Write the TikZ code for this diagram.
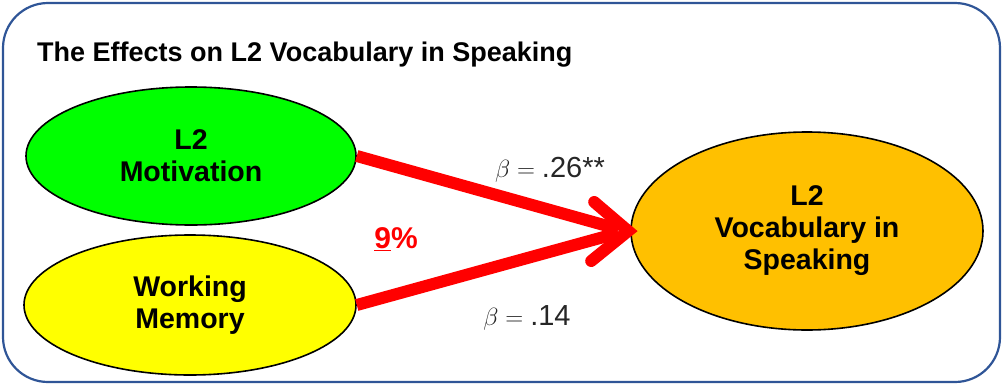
\documentclass[tikz,border=0pt]{standalone}
\usepackage{fontspec}
\setmainfont{Liberation Sans}
\setsansfont{Liberation Sans}
\usetikzlibrary{shapes.geometric,calc}
\definecolor{frameblue}{HTML}{2F5597}
\definecolor{mgreen}{HTML}{00FF00}
\definecolor{myellow}{HTML}{FFFF00}
\definecolor{morange}{HTML}{FFC000}
\definecolor{arrred}{HTML}{FF0000}
\definecolor{labgray}{HTML}{262626}
\tikzset{
  latent/.style={ellipse, draw=black, line width=1.6pt, inner sep=0pt, align=center,
    font=\fontsize{28.5}{32}\selectfont\bfseries},
  redpath/.style={draw=arrred, line width=12pt},
  chevron/.style={draw=arrred, line width=12pt, line cap=round, line join=miter},
  betalab/.style={font=\fontsize{29}{30}\selectfont, text=labgray, inner sep=0pt},
}
\begin{document}
\begin{tikzpicture}[x=1pt,y=-1pt]
\useasboundingbox (0,0) rectangle (1004,386);
\draw[frameblue, line width=2.2pt, rounded corners=45pt, fill=white] (3,3) rectangle (1000,382);
\node[anchor=base west, font=\fontsize{27}{30}\selectfont\bfseries, inner sep=0pt] (title) at (37,61) {The Effects on L2 Vocabulary in Speaking};
\node[latent, fill=mgreen, minimum width=330pt, minimum height=138pt] (mot) at (191,156) {L2\\Motivation};
\node[latent, fill=myellow, minimum width=332pt, minimum height=140pt] (wm) at (190,305) {Working\\Memory};
\node[latent, fill=morange, minimum width=352pt, minimum height=198pt] (voc) at (807,231) {L2\\Vocabulary in\\Speaking};
\coordinate (tip) at ($(voc.west)+(-2,0)$);
\coordinate (end1) at ($(tip)+(-10,-2)$);
\coordinate (end2) at ($(tip)+(-10,2)$);
\draw[redpath] (mot.east) -- (end1);
\draw[redpath] (wm.east) -- (end2);
\draw[chevron] ($(tip)+(-34,-29)$) -- (tip) -- ($(tip)+(-37,30)$);
\node[betalab] (b1) at (550,170) {$\beta = {}$.26**};
\node[betalab] (b2) at (527,318) {$\beta = {}$.14};
\node[text=arrred, font=\fontsize{30}{32}\selectfont\bfseries, inner sep=0pt] (pct) at (396,239) {\underline{9}\%};
\end{tikzpicture}
\end{document}
